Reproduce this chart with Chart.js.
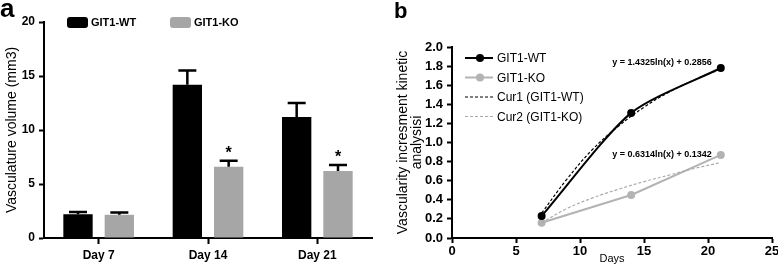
<!DOCTYPE html>
<html>
<head>
<meta charset="utf-8">
<script src="https://cdn.jsdelivr.net/npm/chart.js@4.4.0/dist/chart.umd.min.js"></script>
<style>
  body { margin: 0; width: 778px; height: 272px; overflow: hidden; background: #fff; position: relative; font-family: "Liberation Sans", Arial, sans-serif; }
  canvas { position: absolute; top: 0; }
  #volumeChart { left: 0; }
  #kineticChart { left: 380px; }
  .panel { position: absolute; font-weight: bold; line-height: 1; color: #000; z-index: 2; }
</style>
</head>
<body>
<canvas id="volumeChart" width="385" height="272"></canvas>
<canvas id="kineticChart" width="410" height="272"></canvas>
<div class="panel" style="left:0;top:-5px;font-size:26px">a</div>
<div class="panel" style="left:394px;top:0;font-size:22px">b</div>
<script>
const FONT = '"Liberation Sans", Arial, sans-serif';

// panel a - vasculature volume
const dayLabels = ["Day 7", "Day 14", "Day 21"];
const wtVolume = [2.2, 14.2, 11.2];
const koVolume = [2.15, 6.6, 6.2];
const wtVolumeErr = [0.2, 1.3, 1.3];
const koVolumeErr = [0.2, 0.55, 0.55];
const koStars = ["", "*", "*"];
const volumeTicks = [0, 5, 10, 15, 20];

// panel b - kinetic analysis
const days = [7, 14, 21];
const wtKinetic = [0.23, 1.31, 1.78];
const koKinetic = [0.16, 0.45, 0.87];
const fitDays = [7, 9, 11, 13, 15, 17, 19, 21];
const wtFit = [0.26, 0.62, 0.93, 1.17, 1.37, 1.53, 1.66, 1.77];
const koFit = [0.16, 0.31, 0.42, 0.51, 0.59, 0.66, 0.73, 0.79];
const fitEquations = ["y = 1.4325ln(x) + 0.2856", "y = 0.6314ln(x) + 0.1342"];
const kineticTicks = [0, 0.2, 0.4, 0.6, 0.8, 1.0, 1.2, 1.4, 1.6, 1.8, 2.0];
const dayTicks = [0, 5, 10, 15, 20, 25];

const axisGrid = (len) => ({ drawOnChartArea: false, tickLength: len, tickWidth: 2, tickColor: "#000" });
const axisBorder = { color: "#000", width: 2 };
const tickFont = (size) => ({ family: FONT, size: size, weight: "bold" });

const errorBars = {
    id: "errorBars",
    afterDatasetsDraw(chart) {
        const ctx = chart.ctx;
        const yScale = chart.scales.y;
        const errs = [wtVolumeErr, koVolumeErr];
        ctx.save();
        ctx.strokeStyle = "#000";
        ctx.fillStyle = "#000";
        ctx.lineWidth = 2.5;
        chart.data.datasets.forEach((ds, i) => {
            chart.getDatasetMeta(i).data.forEach((bar, j) => {
                const top = yScale.getPixelForValue(ds.data[j] + errs[i][j]);
                ctx.beginPath();
                ctx.moveTo(bar.x, bar.y);
                ctx.lineTo(bar.x, top);
                ctx.moveTo(bar.x - 9, top);
                ctx.lineTo(bar.x + 9, top);
                ctx.stroke();
                if (i === 1 && koStars[j]) {
                    ctx.font = "bold 16px " + FONT;
                    ctx.textAlign = "center";
                    ctx.textBaseline = "alphabetic";
                    ctx.fillText(koStars[j], bar.x, top - 3);
                }
            });
        });
        ctx.restore();
    }
};

const volumeLegend = {
    id: "volumeLegend",
    afterDraw(chart) {
        const ctx = chart.ctx;
        const left = chart.chartArea.left;
        const offsets = [23, 126];
        ctx.save();
        ctx.font = "bold 11px " + FONT;
        ctx.textBaseline = "middle";
        chart.data.datasets.forEach((ds, i) => {
            const x = left + offsets[i];
            ctx.fillStyle = ds.backgroundColor;
            ctx.beginPath();
            ctx.roundRect(x, 17, 21, 11, 3);
            ctx.fill();
            ctx.fillStyle = "#000";
            ctx.fillText(ds.label, x + 24, 23);
        });
        ctx.restore();
    }
};

const kineticLegend = {
    id: "kineticLegend",
    afterDraw(chart) {
        const ctx = chart.ctx;
        const x0 = chart.chartArea.left + 13;
        ctx.save();
        ctx.font = "12px " + FONT;
        ctx.textBaseline = "middle";
        chart.data.datasets.forEach((ds, i) => {
            const y = 58 + i * 19.5;
            ctx.strokeStyle = ds.borderColor;
            ctx.lineWidth = ds.borderWidth;
            ctx.setLineDash(ds.borderDash || []);
            ctx.beginPath();
            ctx.moveTo(x0, y);
            ctx.lineTo(x0 + 28, y);
            ctx.stroke();
            ctx.setLineDash([]);
            if (ds.pointRadius) {
                ctx.fillStyle = ds.backgroundColor;
                ctx.beginPath();
                ctx.arc(x0 + 15, y, ds.pointRadius, 0, Math.PI * 2);
                ctx.fill();
            }
            ctx.fillStyle = "#000";
            ctx.fillText(ds.label, x0 + 32, y + 1);
        });

        // fit equations next to the last points
        const shiftY = [-5, 0];
        ctx.font = "bold 9px " + FONT;
        ctx.textAlign = "right";
        fitEquations.forEach((eq, i) => {
            const pts = chart.getDatasetMeta(i).data;
            const pt = pts[pts.length - 1];
            ctx.fillText(eq, pt.x - 9, pt.y + shiftY[i]);
        });
        ctx.restore();
    }
};

new Chart(document.getElementById("volumeChart"), {
    type: "bar",
    data: {
        labels: dayLabels,
        datasets: [
            { label: "GIT1-WT", data: wtVolume, backgroundColor: "#000" },
            { label: "GIT1-KO", data: koVolume, backgroundColor: "#a6a6a6" }
        ]
    },
    options: {
        responsive: false,
        animation: false,
        devicePixelRatio: 1,
        datasets: { bar: { categoryPercentage: 0.756, barPercentage: 0.71 } },
        layout: { padding: { top: 22, right: 13, left: 0, bottom: 0 } },
        plugins: { legend: { display: false }, tooltip: { enabled: false } },
        scales: {
            x: {
                grid: Object.assign(axisGrid(6), { offset: false }),
                border: axisBorder,
                ticks: { color: "#000", font: tickFont(12), padding: 4 },
                afterFit: (s) => { s.height = 34; }
            },
            y: {
                min: 0,
                max: 20,
                grid: axisGrid(5),
                border: axisBorder,
                afterBuildTicks: (s) => { s.ticks = volumeTicks.map(v => ({ value: v })); },
                ticks: { color: "#000", font: tickFont(12), padding: 4 },
                title: {
                    display: true,
                    text: "Vasculature volume (mm3)",
                    color: "#000",
                    font: { family: FONT, size: 14 },
                    padding: { top: 4, bottom: 0 }
                },
                afterFit: (s) => { s.width = 44; }
            }
        }
    },
    plugins: [errorBars, volumeLegend]
});

new Chart(document.getElementById("kineticChart"), {
    type: "scatter",
    data: {
        datasets: [
            {
                label: "GIT1-WT",
                data: days.map((d, i) => ({ x: d, y: wtKinetic[i] })),
                showLine: true, borderColor: "#000", backgroundColor: "#000",
                borderWidth: 2, pointRadius: 4, pointBorderWidth: 0, tension: 0.25, order: 2
            },
            {
                label: "GIT1-KO",
                data: days.map((d, i) => ({ x: d, y: koKinetic[i] })),
                showLine: true, borderColor: "#b3b3b3", backgroundColor: "#b3b3b3",
                borderWidth: 2, pointRadius: 4, pointBorderWidth: 0, tension: 0, order: 3
            },
            {
                label: "Cur1 (GIT1-WT)",
                data: fitDays.map((d, i) => ({ x: d, y: wtFit[i] })),
                showLine: true, borderColor: "#000", backgroundColor: "#000",
                borderWidth: 1.2, borderDash: [3, 2], pointRadius: 0, tension: 0.4, order: 0
            },
            {
                label: "Cur2 (GIT1-KO)",
                data: fitDays.map((d, i) => ({ x: d, y: koFit[i] })),
                showLine: true, borderColor: "#aaaaaa", backgroundColor: "#aaaaaa",
                borderWidth: 1.2, borderDash: [3, 2], pointRadius: 0, tension: 0.4, order: 1
            }
        ]
    },
    options: {
        responsive: false,
        animation: false,
        devicePixelRatio: 1,
        layout: { padding: { top: 47, right: 18, left: 0, bottom: 0 } },
        plugins: { legend: { display: false }, tooltip: { enabled: false } },
        scales: {
            x: {
                type: "linear",
                min: 0,
                max: 25,
                grid: axisGrid(5),
                border: axisBorder,
                afterBuildTicks: (s) => { s.ticks = dayTicks.map(v => ({ value: v })); },
                ticks: { color: "#000", font: tickFont(13), padding: 1 },
                title: {
                    display: true,
                    text: "Days",
                    color: "#000",
                    font: { family: FONT, size: 11 },
                    padding: { top: 0, bottom: 6 }
                },
                afterFit: (s) => { s.height = 34; }
            },
            y: {
                min: 0,
                max: 2,
                grid: axisGrid(5),
                border: axisBorder,
                afterBuildTicks: (s) => { s.ticks = kineticTicks.map(v => ({ value: v })); },
                ticks: { color: "#000", font: tickFont(13), padding: 4, callback: (v) => v.toFixed(1) },
                title: {
                    display: true,
                    text: ["Vascularity incresment kinetic", "analysisi"],
                    color: "#000",
                    font: { family: FONT, size: 14, lineHeight: 1 },
                    padding: { top: 16, bottom: 0 }
                },
                afterFit: (s) => { s.width = 72; }
            }
        }
    },
    plugins: [kineticLegend]
});
</script>
</body>
</html>
